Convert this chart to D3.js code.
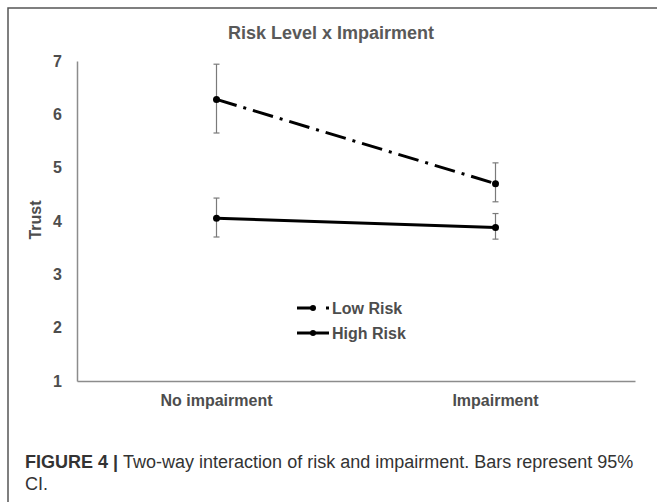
<!DOCTYPE html>
<html>
<head>
<meta charset="utf-8">
<script src="https://cdn.jsdelivr.net/npm/d3@7"></script>
<style>
  body { margin: 0; background: #fff; }
  svg text { font-family: "Liberation Sans", Arial, sans-serif; }
</style>
</head>
<body>
<div class="container"></div>
<script>
// values
var categories = ["No impairment", "Impairment"];
var seriesNames = ["Low Risk", "High Risk"];
var lowRisk = [6.28, 4.70],
    lowRiskLower = [5.65, 4.36],
    lowRiskUpper = [6.94, 5.09];
var highRisk = [4.05, 3.88],
    highRiskLower = [3.70, 3.66],
    highRiskUpper = [4.43, 4.14];
var yTicks = [1, 2, 3, 4, 5, 6, 7];

var width = 657,
    height = 502,
    plot = {left: 77, right: 635, top: 61, bottom: 381};

var svg = d3.select("div.container").append("svg")
    .attr("width", width)
    .attr("height", height);

// frame around the figure (right/bottom edges run off the picture)
svg.append("rect")
    .attr("x", 8).attr("y", 8)
    .attr("width", 720).attr("height", 600)
    .attr("fill", "none")
    .attr("stroke", "#555")
    .attr("stroke-width", 1.5);

var x = d3.scaleBand().domain(categories).range([plot.left, plot.right]);
var y = d3.scaleLinear().domain([1, 7]).range([plot.bottom, plot.top]);
var cx = function(c) { return x(c) + x.bandwidth() / 2; };

svg.append("text")
    .attr("x", 331).attr("y", 39)
    .attr("text-anchor", "middle")
    .attr("font-size", 18).attr("font-weight", "bold")
    .attr("fill", "#595959")
    .text("Risk Level x Impairment");

var yAxis = svg.append("g")
    .attr("transform", "translate(" + plot.left + ",0)")
    .call(d3.axisLeft(y).tickValues(yTicks).tickFormat(d3.format("d"))
        .tickSize(0).tickSizeOuter(0).tickPadding(15));
var xAxis = svg.append("g")
    .attr("transform", "translate(0," + plot.bottom + ")")
    .call(d3.axisBottom(x).tickSize(0).tickSizeOuter(0).tickPadding(14));

[yAxis, xAxis].forEach(function(g) {
    g.select(".domain").attr("stroke", "#8c8c8c").attr("stroke-width", 1.5);
    g.selectAll("text")
        .attr("font-size", 16).attr("font-weight", "bold")
        .attr("font-family", "Liberation Sans, Arial, sans-serif")
        .attr("fill", "#4d4d4d");
});

svg.append("text")
    .attr("transform", "translate(41,220) rotate(-90)")
    .attr("text-anchor", "middle")
    .attr("font-size", 16).attr("font-weight", "bold")
    .attr("fill", "#4d4d4d")
    .text("Trust");

var series = [
    {name: seriesNames[0], values: lowRisk, lo: lowRiskLower, hi: lowRiskUpper, dash: "21,7,3,7"},
    {name: seriesNames[1], values: highRisk, lo: highRiskLower, hi: highRiskUpper, dash: null}
];

var line = d3.line()
    .x(function(d) { return cx(d.cat); })
    .y(function(d) { return y(d.v); });

series.forEach(function(s) {
    var pts = categories.map(function(c, i) {
        return {cat: c, v: s.values[i], lo: s.lo[i], hi: s.hi[i]};
    });

    // error bars
    var eb = svg.append("g").selectAll("g").data(pts).enter().append("g")
        .attr("stroke", "#7a7a7a").attr("stroke-width", 1.2);
    eb.append("line")
        .attr("x1", function(d) { return cx(d.cat); })
        .attr("x2", function(d) { return cx(d.cat); })
        .attr("y1", function(d) { return y(d.lo); })
        .attr("y2", function(d) { return y(d.hi); });
    eb.append("line")
        .attr("x1", function(d) { return cx(d.cat) - 3; })
        .attr("x2", function(d) { return cx(d.cat) + 3; })
        .attr("y1", function(d) { return y(d.hi); })
        .attr("y2", function(d) { return y(d.hi); });
    eb.append("line")
        .attr("x1", function(d) { return cx(d.cat) - 3; })
        .attr("x2", function(d) { return cx(d.cat) + 3; })
        .attr("y1", function(d) { return y(d.lo); })
        .attr("y2", function(d) { return y(d.lo); });

    svg.append("path")
        .datum(pts)
        .attr("d", line)
        .attr("fill", "none")
        .attr("stroke", "#000")
        .attr("stroke-width", 3)
        .attr("stroke-dasharray", s.dash);

    svg.append("g").selectAll("circle").data(pts).enter().append("circle")
        .attr("cx", function(d) { return cx(d.cat); })
        .attr("cy", function(d) { return y(d.v); })
        .attr("r", 3.5)
        .attr("fill", "#000");
});

// legend
var legend = svg.append("g").selectAll("g").data(series).enter().append("g")
    .attr("transform", function(d, i) { return "translate(297," + (308 + i * 25) + ")"; });
legend.append("line")
    .attr("x1", 0).attr("x2", 32)
    .attr("stroke", "#000").attr("stroke-width", 3)
    .attr("stroke-dasharray", function(d) { return d.dash ? "17,12,3,20" : null; });
legend.append("circle")
    .attr("cx", 16).attr("r", 3).attr("fill", "#000");
legend.append("text")
    .attr("x", 35).attr("dy", "0.35em")
    .attr("font-size", 16).attr("font-weight", "bold")
    .attr("fill", "#4d4d4d")
    .text(function(d) { return d.name; });

// caption
var cap = svg.append("text")
    .attr("x", 25).attr("y", 468)
    .attr("font-size", 18)
    .attr("fill", "#333");
cap.append("tspan").attr("font-weight", "bold").text("FIGURE 4 | ");
cap.append("tspan").text("Two-way interaction of risk and impairment. Bars represent 95%");
svg.append("text")
    .attr("x", 25).attr("y", 490)
    .attr("font-size", 18)
    .attr("fill", "#333")
    .text("CI.");
</script>
</body>
</html>
